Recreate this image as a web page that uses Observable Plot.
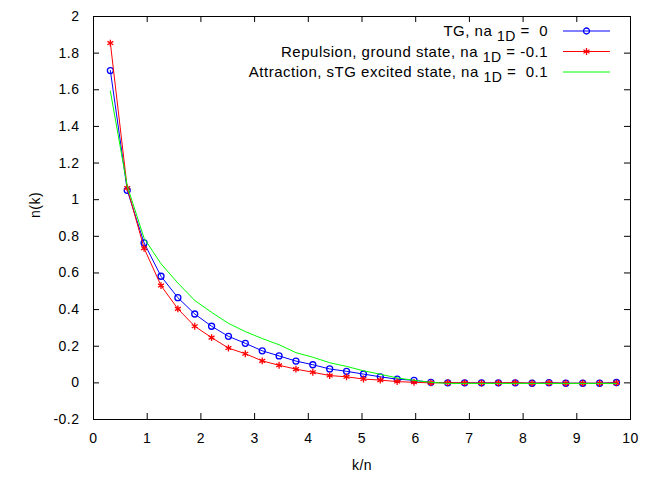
<!DOCTYPE html>
<html><head><meta charset="utf-8">
<script src="https://cdn.jsdelivr.net/npm/d3@7"></script>
<script src="https://cdn.jsdelivr.net/npm/@observablehq/plot@0.6"></script>
<style>
body{margin:0;background:#fff}
#chart svg{font-family:"Liberation Sans",Arial,sans-serif;letter-spacing:0.5px}
</style>
</head><body><div id="chart"></div>
<script>
// momentum k/n at which n(k) is sampled
const k = [0.314,0.628,0.942,1.257,1.571,1.885,2.199,2.513,2.827,3.142,3.456,3.770,4.084,4.398,4.712,5.027,5.341,5.655,5.969,6.283,6.597,6.912,7.226,7.540,7.854,8.168,8.482,8.796,9.111,9.425,9.739];
// TG, na_1D = 0
const nTG  = [1.705,1.051,0.764,0.582,0.465,0.376,0.309,0.254,0.216,0.175,0.147,0.119,0.099,0.076,0.063,0.048,0.033,0.020,0.014,0.003,0.000,0.000,0.000,0.000,0.000,-0.002,0.001,-0.002,-0.002,-0.002,0.002];
// Repulsion, ground state, na_1D = -0.1
const nRep = [1.855,1.064,0.735,0.531,0.404,0.309,0.247,0.190,0.159,0.120,0.096,0.075,0.058,0.040,0.033,0.021,0.015,0.007,0.003,0.000,0.001,0.000,-0.001,0.000,0.001,-0.002,0.000,-0.002,-0.002,-0.002,0.000];
// Attraction, sTG excited state, na_1D = 0.1
const nAtt = [1.592,1.075,0.790,0.650,0.545,0.450,0.385,0.325,0.280,0.242,0.208,0.165,0.140,0.110,0.090,0.066,0.047,0.027,0.014,0.003,-0.003,-0.003,-0.003,-0.003,-0.003,-0.003,-0.003,-0.003,-0.003,-0.003,-0.003];
const xTicks = [0,1,2,3,4,5,6,7,8,9,10];
const yTicks = [-0.2,0,0.2,0.4,0.6,0.8,1,1.2,1.4,1.6,1.8,2];
const xLabel = "k/n", yLabel = "n(k)";
const seriesLabels = ["TG, na", "Repulsion, ground state, na", "Attraction, sTG excited state, na"];
const seriesValues = [" =  0", " = -0.1", " =  0.1"];
const seriesColors = ["#0000ff", "#ff0000", "#00ff00"];
const seriesSymbols = ["circle", "asterisk", null];

const W = 652, H = 479;
const mL = 93, mR = 22, mT = 16, mB = 60;
const pw = W - mL - mR, ph = H - mT - mB, tl = 6;

const rows = s => k.map((x, i) => ({k: x, n: s[i]}));
const tg = rows(nTG), rep = rows(nRep), att = rows(nAtt);
const fmt = d => String(+d.toFixed(1));

const chart = Plot.plot({
  width: W, height: H,
  marginLeft: mL, marginRight: mR, marginTop: mT, marginBottom: mB,
  style: {fontSize: "14px", color: "#000", background: "#fff"},
  x: {domain: [0, 10]},
  y: {domain: [-0.2, 2]},
  marks: [
    Plot.ruleX(xTicks.slice(1, -1), {x: d => d, stroke: "#000", insetTop: ph - tl}),
    Plot.ruleX(xTicks.slice(1, -1), {x: d => d, stroke: "#000", insetBottom: ph - tl}),
    Plot.ruleY(yTicks.slice(1, -1), {y: d => d, stroke: "#000", insetRight: pw - tl}),
    Plot.ruleY(yTicks.slice(1, -1), {y: d => d, stroke: "#000", insetLeft: pw - tl}),
    Plot.line(tg, {x: "k", y: "n", stroke: seriesColors[0], strokeWidth: 1}),
    Plot.dot(tg, {x: "k", y: "n", stroke: seriesColors[0], symbol: "circle", r: 3, strokeWidth: 1.3}),
    Plot.line(rep, {x: "k", y: "n", stroke: seriesColors[1], strokeWidth: 1}),
    Plot.dot(rep, {x: "k", y: "n", stroke: seriesColors[1], symbol: "asterisk", r: 3.2, strokeWidth: 1.3}),
    Plot.line(att, {x: "k", y: "n", stroke: seriesColors[2], strokeWidth: 1}),
    Plot.frame({stroke: "#000", strokeWidth: 1}),
    Plot.axisX(xTicks, {tickSize: 0, tickPadding: 14, tickFormat: fmt, fontSize: 14, label: null}),
    Plot.axisY(yTicks, {tickSize: 0, tickPadding: 14, tickFormat: fmt, fontSize: 14, label: null}),
    Plot.text([xLabel], {text: d => d, frameAnchor: "bottom", dy: 50, fontSize: 14}),
    Plot.text([yLabel], {text: d => d, frameAnchor: "left", dx: -58, rotate: -90, fontSize: 14})
  ]
});
document.getElementById("chart").appendChild(chart);

// legend (gnuplot style, top right inside the frame)
const svg = d3.select(chart);
const g = svg.append("g").attr("font-size", 15).attr("fill", "#000");
const textRight = W - mR - 82, lx1 = W - mR - 67, lx2 = W - mR - 20, lxm = (lx1 + lx2) / 2;
seriesLabels.forEach((lab, i) => {
  const cy = mT + 15 + i * 20.5;
  const t = g.append("text").attr("x", textRight).attr("y", cy + 5).attr("text-anchor", "end");
  t.append("tspan").text(lab + " ");
  t.append("tspan").attr("dy", 5).attr("font-size", 14).text("1D");
  t.append("tspan").attr("dy", -5).style("white-space", "pre").text(seriesValues[i]);
  g.append("line").attr("x1", lx1).attr("x2", lx2).attr("y1", cy).attr("y2", cy)
    .attr("stroke", seriesColors[i]).attr("stroke-width", 1);
  if (seriesSymbols[i]) {
    g.append("path").attr("transform", `translate(${lxm},${cy})`)
      .attr("d", d3.symbol(seriesSymbols[i] === "circle" ? d3.symbolCircle : d3.symbolAsterisk, seriesSymbols[i] === "circle" ? 28 : 34)())
      .attr("fill", "none").attr("stroke", seriesColors[i]).attr("stroke-width", 1.3);
  }
});
</script>
</body></html>
